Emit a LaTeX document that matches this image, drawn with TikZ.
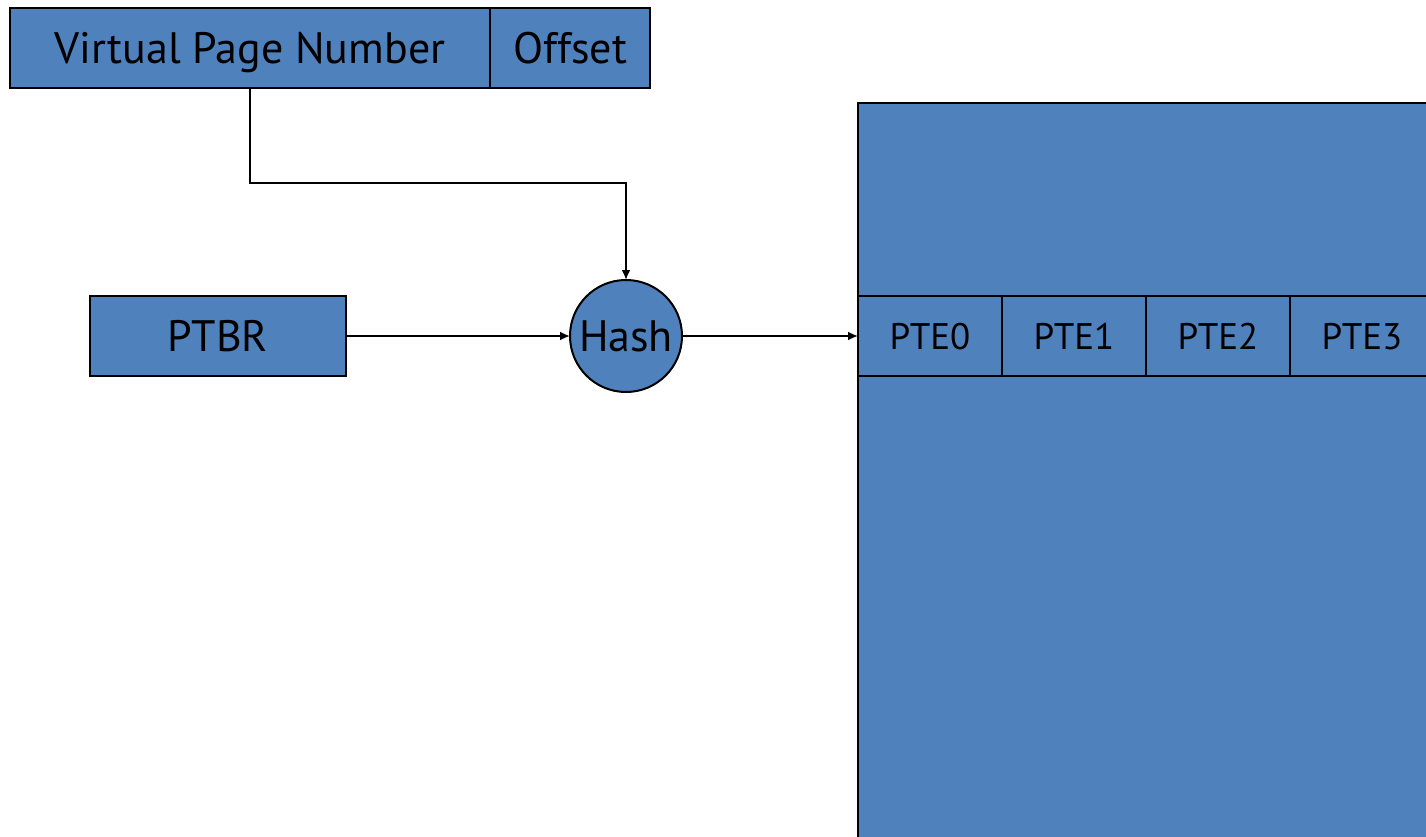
\documentclass[tikz,border=0pt]{standalone}
\usepackage{fontspec}
\setmainfont{PT Sans}
\usetikzlibrary{arrows.meta}
\definecolor{boxblue}{HTML}{4F81BD}
\tikzset{
  field/.style={draw=black, line width=2pt, fill=boxblue, inner sep=0pt, outer sep=0pt, anchor=north west},
  big/.style={font=\fontsize{44}{50}\selectfont, text height=31pt, text depth=0pt},
  small/.style={font=\fontsize{37}{42}\selectfont, text height=26pt, text depth=0pt},
  conn/.style={draw=black, line width=2pt, -{Latex[length=10pt,width=9pt]}},
}
\begin{document}
\begin{tikzpicture}[x=1pt,y=-1pt]
\useasboundingbox (0,0) rectangle (1426,837);
\clip (0,0) rectangle (1426,837);
% virtual address
\node[field, big, minimum width=480pt, minimum height=80pt] (vpn) at (10,8) {Virtual Page Number};
\node[field, big, minimum width=160pt, minimum height=80pt] (off) at (490,8) {Offset};
% PTBR
\node[field, big, minimum width=256pt, minimum height=80pt] (ptbr) at (90,296) {PTBR};
% hash
\node[draw=black, line width=2pt, fill=boxblue, circle, minimum size=112pt, inner sep=0pt, outer sep=0pt, big] (hash) at (626,336) {Hash};
% page table
\node[field, minimum width=600pt, minimum height=760pt] (table) at (858,103) {};
\node[field, small, minimum width=144pt, minimum height=80pt] (pte0) at (858,296) {PTE0};
\node[field, small, minimum width=144pt, minimum height=80pt] (pte1) at (1002,296) {PTE1};
\node[field, small, minimum width=144pt, minimum height=80pt] (pte2) at (1146,296) {PTE2};
\node[field, small, minimum width=144pt, minimum height=80pt] (pte3) at (1290,296) {PTE3};
\coordinate (bend) at (250,183);
% connectors
\draw[conn] (vpn.south) -- (bend) -| (hash.north);
\draw[conn] (ptbr.east) -- (hash.west);
\draw[conn] (hash.east) -- (pte0.west);
\end{tikzpicture}
\end{document}
